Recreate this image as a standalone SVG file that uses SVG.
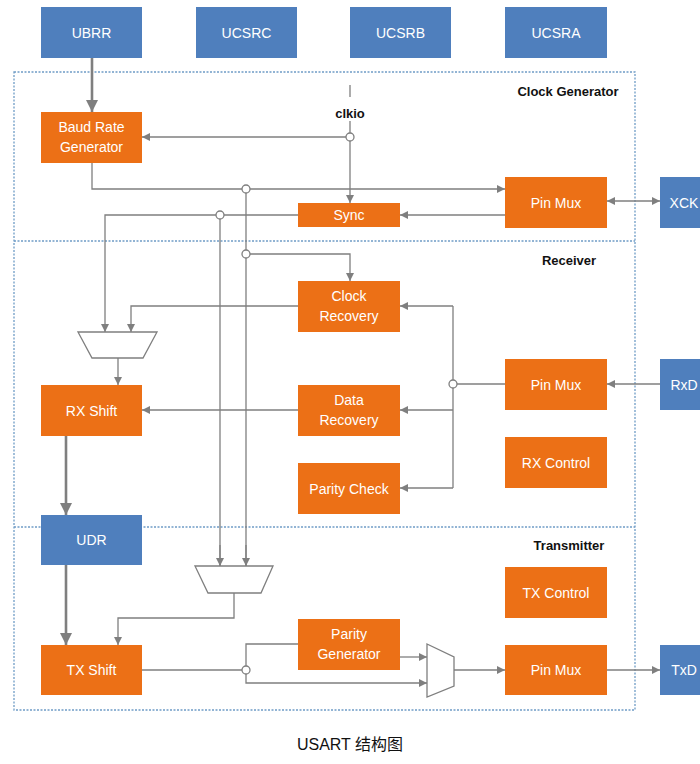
<svg xmlns="http://www.w3.org/2000/svg" width="700" height="764" viewBox="0 0 700 764">
<style>
.o{fill:#EC7016}
.b{fill:#4F7FBD}
.t{font-family:"Liberation Sans",Arial,sans-serif;font-size:14px;fill:#fff;text-anchor:middle;dominant-baseline:central}
.l{font-family:"Liberation Sans",Arial,sans-serif;font-size:13px;fill:#111;text-anchor:middle;font-weight:bold}
.w{fill:none;stroke:#7f7f7f;stroke-width:1.3}
.k{fill:none;stroke:#7f7f7f;stroke-width:2.6}
.a{marker-end:url(#ar)}
.ak{marker-end:url(#ark)}
.dash{fill:none;stroke:#6f9cc6;stroke-width:1.3;stroke-dasharray:2 1.5}
.c{fill:#fff;stroke:#7f7f7f;stroke-width:1.3}
.mux{fill:#fff;stroke:#7f7f7f;stroke-width:1.3}
</style>
<defs>
<marker id="ar" viewBox="0 0 10 10" refX="10" refY="5" markerWidth="8" markerHeight="8" markerUnits="userSpaceOnUse" orient="auto-start-reverse"><path d="M0,0 L10,5 L0,10 Z" fill="#7f7f7f"/></marker>
<marker id="ark" viewBox="0 0 10 10" refX="10" refY="5" markerWidth="12" markerHeight="12" markerUnits="userSpaceOnUse" orient="auto"><path d="M0,0 L10,5 L0,10 Z" fill="#7f7f7f"/></marker>
</defs>
<rect width="700" height="764" fill="#fff"/>
<g id="regions">
<rect class="dash" x="14" y="72" width="621" height="638"/>
<line class="dash" x1="14" y1="241" x2="635" y2="241"/>
<line class="dash" x1="14" y1="527" x2="635" y2="527"/>
<text class="l" x="568" y="96">Clock Generator</text>
<text class="l" x="569" y="265">Receiver</text>
<text class="l" x="569" y="550">Transmitter</text>
</g>
<g id="connectors">
<line class="k ak" x1="92" y1="58" x2="92" y2="112"/>
<line class="w" x1="350" y1="85" x2="350" y2="97"/>
<line class="w a" x1="350" y1="121" x2="350" y2="203"/>
<line class="w a" x1="346" y1="137" x2="142" y2="137"/>
<polyline class="w a" points="92,163 92,189 505,189"/>
<line class="w a" x1="505" y1="215" x2="400" y2="215"/>
<polyline class="w a" points="298,215 105,215 105,332"/>
<line class="w" x1="220" y1="219" x2="220" y2="566" />
<line class="w" x1="246" y1="193" x2="246" y2="250"/>
<line class="w" x1="246" y1="258" x2="246" y2="566"/>
<line class="w a" x1="220" y1="545" x2="220" y2="566"/>
<line class="w a" x1="246" y1="545" x2="246" y2="566"/>
<polyline class="w a" points="250,254 350,254 350,281"/>
<line class="w a" x1="607" y1="201" x2="660" y2="201" marker-start="url(#ar)"/>
<polyline class="w a" points="298,306 131,306 131,332"/>
<line class="w a" x1="118" y1="358" x2="118" y2="385"/>
<line class="w a" x1="298" y1="410" x2="142" y2="410"/>
<line class="k ak" x1="66" y1="436" x2="66" y2="515"/>
<line class="k ak" x1="66" y1="565" x2="66" y2="645"/>
<line class="w a" x1="660" y1="384" x2="607" y2="384"/>
<line class="w" x1="505" y1="384" x2="457" y2="384"/>
<line class="w" x1="453" y1="306" x2="453" y2="380"/>
<line class="w" x1="453" y1="388" x2="453" y2="488"/>
<line class="w a" x1="453" y1="306" x2="400" y2="306"/>
<line class="w a" x1="453" y1="410" x2="400" y2="410"/>
<line class="w a" x1="453" y1="488" x2="400" y2="488"/>
<polyline class="w a" points="234,593 234,618 118,618 118,645"/>
<line class="w" x1="142" y1="670" x2="242" y2="670"/>
<polyline class="w" points="246,666 246,644 298,644"/>
<polyline class="w a" points="246,674 246,683 427,683"/>
<line class="w a" x1="400" y1="657" x2="427" y2="657"/>
<line class="w a" x1="454" y1="670" x2="505" y2="670"/>
<line class="w a" x1="607" y1="670" x2="660" y2="670"/>
<circle class="c" cx="350" cy="137" r="4"/>
<circle class="c" cx="246" cy="189" r="4"/>
<circle class="c" cx="220" cy="215" r="4"/>
<circle class="c" cx="246" cy="254" r="4"/>
<circle class="c" cx="453" cy="384" r="4"/>
<circle class="c" cx="246" cy="670" r="4"/>
</g>
<g id="clkio"><text x="350" y="113" font-family="Liberation Sans,Arial,sans-serif" font-size="13" font-weight="bold" fill="#111" text-anchor="middle" dominant-baseline="central">clkio</text></g>
<g id="UBRR"><rect class="b" x="41" y="7" width="101" height="51"/><text class="t" x="91.5" y="32.5">UBRR</text></g>
<g id="UCSRC"><rect class="b" x="196" y="7" width="101" height="51"/><text class="t" x="246.5" y="32.5">UCSRC</text></g>
<g id="UCSRB"><rect class="b" x="350" y="7" width="101" height="51"/><text class="t" x="400.5" y="32.5">UCSRB</text></g>
<g id="UCSRA"><rect class="b" x="505" y="7" width="102" height="51"/><text class="t" x="556" y="32.5">UCSRA</text></g>
<g id="BaudRateGenerator"><rect class="o" x="41" y="112" width="101" height="51"/><text class="t" x="91.5" y="127">Baud Rate</text><text class="t" x="91.5" y="147">Generator</text></g>
<g id="Sync"><rect class="o" x="298" y="203" width="102" height="24"/><text class="t" x="349" y="215">Sync</text></g>
<g id="PinMuxClk"><rect class="o" x="505" y="177" width="102" height="51"/><text class="t" x="556" y="202.5">Pin Mux</text></g>
<g id="XCK"><rect class="b" x="660" y="177" width="40" height="51"/><text class="t" x="684" y="202.5">XCK</text></g>
<g id="ClockRecovery"><rect class="o" x="298" y="281" width="102" height="51"/><text class="t" x="349" y="296">Clock</text><text class="t" x="349" y="316">Recovery</text></g>
<g id="DataRecovery"><rect class="o" x="298" y="385" width="102" height="51"/><text class="t" x="349" y="400">Data</text><text class="t" x="349" y="420">Recovery</text></g>
<g id="ParityCheck"><rect class="o" x="298" y="463" width="102" height="51"/><text class="t" x="349" y="488.5">Parity Check</text></g>
<g id="PinMuxRx"><rect class="o" x="505" y="359" width="102" height="51"/><text class="t" x="556" y="384.5">Pin Mux</text></g>
<g id="RXControl"><rect class="o" x="505" y="437" width="102" height="51"/><text class="t" x="556" y="462.5">RX Control</text></g>
<g id="RxD"><rect class="b" x="660" y="359" width="40" height="51"/><text class="t" x="684" y="384.5">RxD</text></g>
<g id="RxMux"><polygon class="mux" points="78,332 157,332 143,358 92,358"/></g>
<g id="RXShift"><rect class="o" x="41" y="385" width="101" height="51"/><text class="t" x="91.5" y="410.5">RX Shift</text></g>
<g id="UDR"><rect class="b" x="41" y="515" width="101" height="50"/><text class="t" x="91.5" y="540">UDR</text></g>
<g id="TxMux"><polygon class="mux" points="195,566 273,566 261,593 208,593"/></g>
<g id="TXControl"><rect class="o" x="505" y="567" width="102" height="51"/><text class="t" x="556" y="592.5">TX Control</text></g>
<g id="ParityGenerator"><rect class="o" x="298" y="619" width="102" height="51"/><text class="t" x="349" y="634">Parity</text><text class="t" x="349" y="654">Generator</text></g>
<g id="TXShift"><rect class="o" x="41" y="645" width="101" height="50"/><text class="t" x="91.5" y="670">TX Shift</text></g>
<g id="OutMux"><polygon class="mux" points="427,644 454,657 454,686 427,697"/></g>
<g id="PinMuxTx"><rect class="o" x="505" y="645" width="102" height="50"/><text class="t" x="556" y="670">Pin Mux</text></g>
<g id="TxD"><rect class="b" x="660" y="645" width="40" height="50"/><text class="t" x="684" y="670">TxD</text></g>
<g id="caption"><text x="350" y="750" font-family="Liberation Sans,'Noto Sans CJK SC',sans-serif" font-size="16" fill="#111" text-anchor="middle">USART 结构图</text></g>
</svg>
